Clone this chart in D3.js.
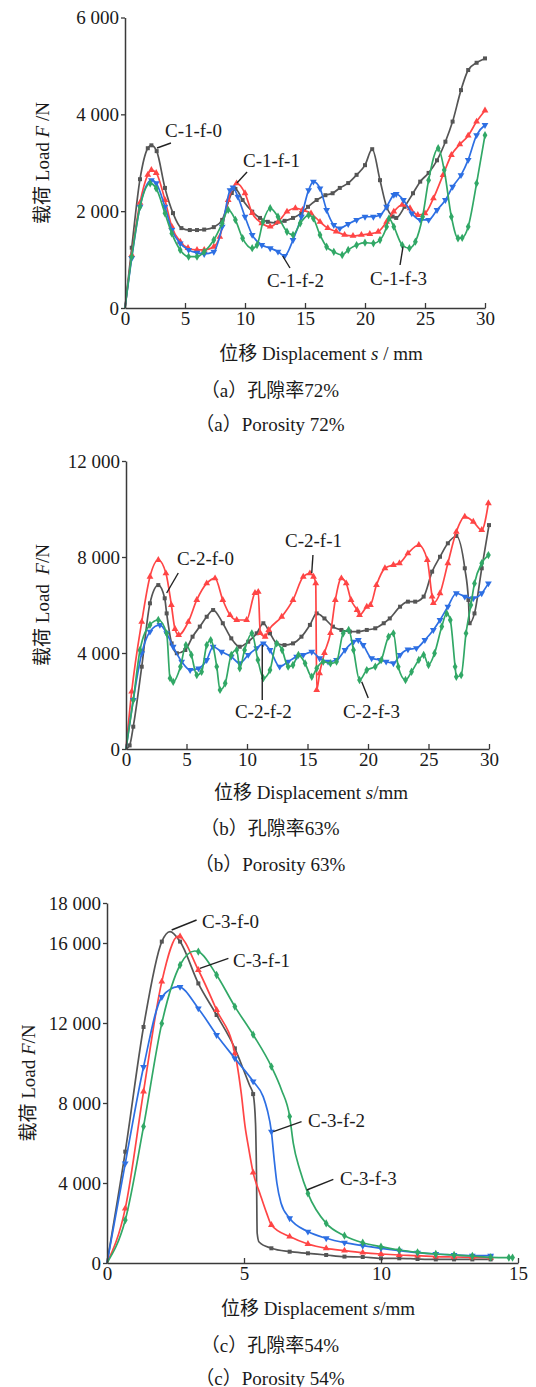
<!DOCTYPE html>
<html><head><meta charset="utf-8">
<script src="https://cdn.jsdelivr.net/npm/d3@7"></script>
<style>
body{margin:0;background:#fff}
svg{display:block}
</style>
</head><body>
<svg id="chart" width="536" height="1387"></svg>
<script>
// ---------------- DATA ----------------
// Panel (a) porosity 72%  [displacement mm, load N]
const a_f0 = [[0,0],[0.56,1245],[1.25,2660],[1.9,3300],[2.2,3360],[2.64,3240],[3.33,2480],[4.0,1960],[4.7,1650],[5.4,1610],[6.0,1610],[6.6,1620],[7.4,1670],[8.1,1820],[8.9,2375],[9.2,2460],[9.8,2230],[10.6,1990],[11.25,1860],[11.9,1780],[12.6,1760],[13.3,1800],[14.0,1860],[14.7,1960],[15.25,2090],[15.97,2230],[16.7,2330],[17.3,2370],[17.9,2480],[18.6,2580],[19.3,2750],[20.0,2950],[20.6,3280],[21.25,2640],[21.8,2090],[22.3,1890],[22.6,1860],[23.3,2090],[24.0,2370],[24.6,2610],[25.3,2790],[26.0,3050],[26.7,3435],[27.3,3850],[28.0,4500],[28.6,4915],[29.3,5065],[30,5155]];
const a_f1 = [[0,0],[0.56,1095],[1.25,2175],[1.9,2750],[2.2,2850],[2.6,2790],[3.33,2230],[3.9,1680],[4.6,1370],[5.25,1240],[6.0,1200],[6.6,1200],[7.4,1265],[7.9,1470],[8.6,2230],[9.3,2575],[10.0,2370],[10.6,1960],[11.4,1750],[12.1,1680],[12.75,1780],[13.5,1990],[14.2,2060],[14.8,2025],[15.5,1955],[16.25,1780],[16.9,1650],[17.6,1580],[18.3,1510],[19.0,1490],[19.7,1510],[20.4,1530],[21.1,1575],[21.8,1780],[22.4,1990],[23.1,2130],[23.75,2060],[24.4,1920],[25.0,1955],[25.7,2265],[26.5,2745],[27.2,3160],[27.9,3380],[28.6,3560],[29.3,3850],[30,4080]];
const a_f2 = [[0,0],[0.56,1030],[1.25,2090],[2.2,2640],[2.6,2575],[3.33,2090],[3.9,1610],[4.6,1335],[5.3,1200],[6.0,1140],[6.6,1115],[7.4,1160],[8.1,1680],[8.75,2435],[9.0,2490],[9.4,2300],[10.0,1885],[10.6,1510],[11.4,1300],[12.1,1235],[12.75,1165],[13.3,1075],[14.0,1405],[14.7,1885],[15.3,2435],[15.7,2610],[16.25,2470],[16.8,2025],[17.4,1715],[17.9,1645],[18.6,1735],[19.3,1820],[20.0,1885],[20.7,1885],[21.25,1920],[21.8,2090],[22.4,2335],[22.6,2355],[23.2,2230],[23.9,1955],[24.6,1820],[25.3,1820],[26.0,2025],[26.7,2230],[27.3,2505],[28.0,2745],[28.6,3060],[29.3,3570],[30,3780]];
const a_f3 = [[0,0],[0.56,1060],[1.25,2090],[2.1,2575],[2.6,2470],[3.33,1955],[3.9,1540],[4.6,1200],[5.3,1060],[6.0,1060],[6.6,1160],[7.4,1405],[8.1,1750],[8.6,2025],[9.2,1820],[9.8,1440],[10.6,1235],[11.0,1300],[11.5,1780],[12.1,2060],[12.75,1885],[13.5,1575],[14.0,1510],[14.6,1750],[15.3,1920],[15.7,1850],[16.25,1510],[16.8,1265],[17.4,1160],[18.1,1095],[18.6,1200],[19.3,1300],[20.0,1350],[20.7,1335],[21.25,1405],[21.8,1680],[22.0,1850],[22.4,1680],[23.1,1300],[23.7,1235],[24.2,1370],[24.8,1885],[25.3,2640],[26.1,3300],[26.6,2850],[27.2,1885],[27.75,1440],[28.1,1450],[28.6,1680],[29.3,2575],[30,3570]];

// Panel (b) porosity 63%
const b_f0 = [[0,0],[0.3,150],[0.6,930],[1.3,3430],[1.98,6070],[2.67,6830],[3.2,6280],[3.36,5650],[3.77,4400],[4.2,3990],[4.9,4125],[5.5,4680],[6.1,5100],[6.67,5510],[7.2,5790],[8.0,5240],[8.7,4610],[9.4,4260],[10.1,4470],[10.8,4820],[11.35,5240],[11.9,4820],[12.45,4400],[13.1,4330],[13.8,4400],[14.5,4680],[15.2,5170],[15.76,5650],[16.4,5440],[17.1,5100],[17.8,4960],[18.5,4890],[19.2,4890],[19.9,4960],[20.6,5030],[21.3,5240],[21.8,5440],[22.65,5930],[23.3,6140],[23.9,6140],[24.6,6350],[25.3,7390],[25.95,8010],[26.6,8570],[27.3,8875],[28.0,7530],[28.3,6210],[28.4,5240],[28.8,5650],[29.4,7530],[30.0,9330]];
const b_f1 = [[0,0],[0.47,2390],[1.3,5300],[1.98,7180],[2.67,7875],[3.3,7320],[3.75,6000],[4.05,5000],[4.35,4750],[5.15,5300],[5.85,6210],[6.67,6900],[7.36,7110],[8.0,6210],[8.6,5580],[9.15,5375],[9.97,5375],[10.66,6500],[10.93,6550],[11.1,4830],[11.5,4680],[11.8,4960],[12.87,5510],[13.8,6210],[14.65,7180],[15.2,7320],[15.5,7180],[15.68,6900],[15.76,2460],[16.0,3150],[16.4,4000],[16.9,4830],[17.3,6210],[17.8,7110],[18.2,6900],[18.6,6210],[19.1,5790],[19.3,5580],[19.9,5930],[20.2,6000],[20.7,6830],[21.4,7530],[22.1,7670],[22.6,7740],[23.3,8150],[24.2,8500],[24.9,7875],[25.3,6350],[25.4,6080],[25.95,6490],[26.6,7740],[27.3,9050],[28.0,9680],[28.7,9470],[29.4,9125],[29.95,10240]];
const b_f2 = [[0,0],[0.6,2040],[1.3,3990],[1.98,4890],[2.8,5170],[3.36,4820],[3.9,4260],[4.6,3640],[5.3,3290],[6.0,3360],[6.67,3710],[7.2,4260],[7.9,4050],[8.7,3850],[9.4,3570],[10.1,3920],[10.8,4200],[11.35,4400],[11.9,4125],[12.7,3430],[13.4,3640],[14.1,3850],[14.65,3920],[15.35,4050],[16.0,3780],[16.7,3640],[17.4,3710],[18.1,4125],[18.8,4470],[19.2,4540],[19.6,4330],[20.3,3780],[21.0,3710],[21.5,3640],[22.1,3570],[22.65,3920],[23.3,4150],[24.0,4200],[24.7,4540],[25.4,4960],[25.95,5375],[26.6,5930],[27.3,6490],[28.0,6350],[28.7,6280],[29.4,6490],[29.95,6900]];
const b_f3 = [[0,0],[0.6,2040],[1.16,4125],[1.98,5170],[2.67,5375],[3.36,4820],[3.64,2950],[3.9,2800],[4.5,3430],[4.95,4330],[5.4,3920],[5.85,3080],[6.25,3220],[6.67,4330],[7.0,4540],[7.5,3430],[7.77,2460],[8.2,2740],[8.7,3920],[9.15,4125],[9.4,3360],[9.8,4125],[10.4,4820],[10.9,3710],[11.35,2950],[11.9,3290],[12.45,4400],[12.9,4125],[13.4,3430],[13.8,3500],[14.25,3920],[14.8,3570],[15.35,3010],[15.76,3360],[16.3,3640],[16.9,3570],[17.4,3640],[17.95,4820],[18.4,4960],[18.8,4125],[19.3,2875],[19.9,3290],[20.6,3430],[21.1,3710],[21.7,4680],[22.1,4820],[22.5,3430],[23.1,2875],[23.6,3220],[24.2,3710],[24.6,3920],[25.0,3500],[25.5,3990],[26.1,5100],[26.5,5650],[26.8,5375],[27.2,3430],[27.3,3010],[27.7,3080],[28.1,4820],[28.5,6000],[28.8,6900],[29.4,7740],[29.95,8080]];

// Panel (c) porosity 54%
const c_f0 = [[0,0],[0.667,5570],[1.333,11800],[2.0,16070],[2.3,16570],[2.667,16070],[3.333,13980],[4.0,12400],[4.667,10730],[5.0,9600],[5.2,8900],[5.34,8400],[5.42,7000],[5.46,4000],[5.48,1500],[5.55,1050],[6.0,735],[6.667,565],[7.333,485],[8.0,400],[8.667,320],[9.333,300],[10.0,235],[10.667,235],[11.333,200],[12.0,180],[12.667,180],[13.333,180],[14.1,180]];
const c_f1 = [[0,0],[0.667,2730],[1.333,8570],[2.0,14070],[2.6,16350],[3.333,14650],[4.0,12650],[4.667,10480],[4.75,9900],[4.9,8480],[5.04,6820],[5.16,5820],[5.34,4480],[5.58,3480],[5.83,2480],[6.0,1900],[6.667,1320],[7.333,950],[8.0,735],[8.667,620],[9.333,520],[10.0,450],[10.667,400],[11.333,370],[12.0,320],[12.667,300],[13.333,280],[14.0,270]];
const c_f2 = [[0,0],[0.667,4985],[1.333,9800],[2.0,13300],[2.6,13820],[3.333,12730],[4.0,11400],[4.667,10230],[5.34,9070],[5.7,8320],[5.85,7650],[6.0,6570],[6.1,5200],[6.2,4000],[6.35,3000],[6.667,2235],[7.333,1570],[8.0,1235],[8.667,1015],[9.333,865],[10.0,735],[10.667,620],[11.333,520],[12.0,450],[12.667,400],[13.333,370],[14.1,370]];
const c_f3 = [[0,0],[0.667,2150],[1.333,6820],[2.0,11980],[2.667,14900],[3.2,15600],[3.333,15570],[4.0,14400],[4.667,12820],[5.34,11400],[6.0,9820],[6.37,8650],[6.667,7320],[6.8,5980],[7.04,4650],[7.333,3480],[8.0,1980],[8.667,1365],[9.333,1015],[10.0,815],[10.667,650],[11.333,535],[12.0,450],[12.667,400],[13.333,350],[14.0,285],[14.8,270]];

// names / ticks
const namesA = ["C-1-f-0","C-1-f-1","C-1-f-2","C-1-f-3"];
const namesB = ["C-2-f-0","C-2-f-1","C-2-f-2","C-2-f-3"];
const namesC = ["C-3-f-0","C-3-f-1","C-3-f-2","C-3-f-3"];
const xTicksAB = [0,5,10,15,20,25,30];
const xTicksC = [0,5,10,15];
const yTicksA = [0,2000,4000,6000];
const yTicksB = [0,4000,8000,12000];
const yTicksC = [0,4000,8000,12000,16000,18000];
// label anchors in data units: [textX, textY, leaderX1, leaderY1, leaderX2, leaderY2]
const labelPosA = [[3.33,3532,2.67,3305,3.83,3408],[9.83,2912,9.33,2582,10.17,2809],[11.83,434,13.14,1074,13.75,826],[20.42,475,23.17,1266,22.92,888]];
const labelPosB = [[4.21,7667,3.36,6500,4.32,7333],[13.14,8417,15.45,8083,15.35,7333],[9.0,1290,11.26,4333,11.26,2040],[17.93,1290,19.48,2804,20.02,2125]];
const labelPosC = [[3.47,16750,2.36,16650,3.27,17150],[4.6,14800,3.39,14735,4.43,15235],[7.34,6800,6.07,6565,7.1,7065],[8.5,3900,7.29,3650,8.26,4185]];

// ---------------- STYLE ----------------
const FONT = '"Liberation Serif", "Noto Sans CJK SC", serif';
const colors = ["#555555","#ff4545","#2d6fe3","#31a866"];
const symbolTypes = [d3.symbolSquare, d3.symbolTriangle, d3.symbolTriangle, d3.symbolDiamond];
const symbolRot = [0,0,180,0];

const svg = d3.select("#chart").style("font-family", FONT);

const panels = [
  {series:[a_f0,a_f1,a_f2,a_f3], names:namesA, labels:labelPosA, xDomain:[0,30], yDomain:[0,6000],
   xRange:[125,485], yRange:[308,17.5], xTicks:xTicksAB, yTicks:yTicksA,
   xTitle:["位移 Displacement ","s"," / mm"], xTitlePos:[321,353],
   yTitle:["载荷 Load ","F"," /N"], yTitlePos:[42,163],
   cap1:"（a）孔隙率72%", cap2:"（a）Porosity 72%", capY:[390,424], markerStep:null},
  {series:[b_f0,b_f1,b_f2,b_f3], names:namesB, labels:labelPosB, xDomain:[0,30], yDomain:[0,12000],
   xRange:[126,489], yRange:[749,461], xTicks:xTicksAB, yTicks:yTicksB,
   xTitle:["位移 Displacement ","s","/mm"], xTitlePos:[311,792],
   yTitle:["载荷 Load  ","F","/N"], yTitlePos:[42,605],
   cap1:"（b）孔隙率63%", cap2:"（b）Porosity 63%", capY:[828,864], markerStep:null},
  {series:[c_f0,c_f1,c_f2,c_f3], names:namesC, labels:labelPosC, xDomain:[0,15], yDomain:[0,18000],
   xRange:[107,518], yRange:[1263,903], xTicks:xTicksC, yTicks:yTicksC,
   xTitle:["位移 Displacement ","s","/mm"], xTitlePos:[318,1308],
   yTitle:["载荷 Load ","F","/N"], yTitlePos:[28,1083],
   cap1:"（c）孔隙率54%", cap2:"（c）Porosity 54%", capY:[1345,1378], markerStep:2/3}
];

const fmtY = d => d === 0 ? "0" : d3.format(",")(d).replace(/,/g, " ");

function titleText(sel, parts){
  sel.append("tspan").text(parts[0]).attr("xml:space","preserve");
  sel.append("tspan").text(parts[1]).attr("font-style","italic");
  sel.append("tspan").text(parts[2]);
}

function styledText(sel){ return sel.style("font-family", FONT).attr("fill", "#1a1a1a"); }

panels.forEach(p => {
  const x = d3.scaleLinear().domain(p.xDomain).range(p.xRange);
  const y = d3.scaleLinear().domain(p.yDomain).range(p.yRange);
  const g = svg.append("g");

  const line = d3.line().x(d => x(d[0])).y(d => y(d[1])).curve(d3.curveMonotoneX);

  p.series.forEach((s, i) => {
    const path = g.append("path").datum(s).attr("d", line)
      .attr("fill","none").attr("stroke",colors[i]).attr("stroke-width",1.7)
      .attr("stroke-linejoin","round");
    let pts;
    if (p.markerStep) {
      const node = path.node(), L = node.getTotalLength();
      const xmax = s[s.length-1][0];
      pts = [];
      for (let k = 1; k * p.markerStep <= xmax + 1e-6; k++) {
        const px = x(k * p.markerStep);
        let lo = 0, hi = L;
        for (let it = 0; it < 40; it++) {
          const mid = (lo + hi) / 2;
          if (node.getPointAtLength(mid).x < px) lo = mid; else hi = mid;
        }
        const pt = node.getPointAtLength((lo + hi) / 2);
        pts.push([pt.x, pt.y]);
      }
      if (xmax - Math.floor(xmax / p.markerStep) * p.markerStep > 0.1) {
        const last = s[s.length-1]; pts.push([x(last[0]), y(last[1])]);
      }
    } else {
      pts = s.slice(1).map(d => [x(d[0]), y(d[1])]);
    }
    g.append("g").selectAll("path").data(pts).join("path")
      .attr("transform", d => `translate(${d[0]},${d[1]}) rotate(${symbolRot[i]})`)
      .attr("d", d3.symbol().type(symbolTypes[i]).size(i === 0 ? 16 : 20))
      .attr("fill", colors[i]);
  });

  // axes
  const ax = g.append("g").attr("transform", `translate(0,${p.yRange[0]})`)
    .call(d3.axisBottom(x).tickValues(p.xTicks).tickSizeInner(-5).tickSizeOuter(0).tickPadding(4).tickFormat(d3.format("d")));
  const ay = g.append("g").attr("transform", `translate(${p.xRange[0]},0)`)
    .call(d3.axisLeft(y).tickValues(p.yTicks).tickSizeInner(4).tickSizeOuter(0).tickPadding(2).tickFormat(fmtY));
  [ax, ay].forEach(a => {
    a.attr("font-family", null).attr("font-size", 19).style("color", "#3a3a3a");
    a.select(".domain").attr("stroke-width", 1.5);
    a.selectAll(".tick line").attr("stroke-width", 1.3);
    a.selectAll(".tick text").style("font-family", FONT).style("fill", "#1a1a1a");
  });

  // labels & leaders
  p.labels.forEach((lp, i) => {
    g.append("line").attr("x1", x(lp[2])).attr("y1", y(lp[3])).attr("x2", x(lp[4])).attr("y2", y(lp[5]))
      .attr("stroke", "#222").attr("stroke-width", 1.4);
    styledText(g.append("text")).attr("x", x(lp[0])).attr("y", y(lp[1])).attr("font-size", 19).text(p.names[i]);
  });

  // axis titles
  const xt = styledText(g.append("text")).attr("x", p.xTitlePos[0]).attr("y", p.xTitlePos[1])
    .attr("text-anchor","middle").attr("dominant-baseline","central").attr("font-size",19);
  titleText(xt, p.xTitle);
  const yt = styledText(g.append("text")).attr("transform", `translate(${p.yTitlePos[0]},${p.yTitlePos[1]}) rotate(-90)`)
    .attr("text-anchor","middle").attr("dominant-baseline","central").attr("font-size",19);
  titleText(yt, p.yTitle);

  // captions
  styledText(g.append("text")).attr("x", 270).attr("y", p.capY[0]).attr("text-anchor","middle")
    .attr("dominant-baseline","central").attr("font-size",19).text(p.cap1);
  styledText(g.append("text")).attr("x", 270).attr("y", p.capY[1]).attr("text-anchor","middle")
    .attr("dominant-baseline","central").attr("font-size",19).text(p.cap2);
});
</script>
</body></html>
